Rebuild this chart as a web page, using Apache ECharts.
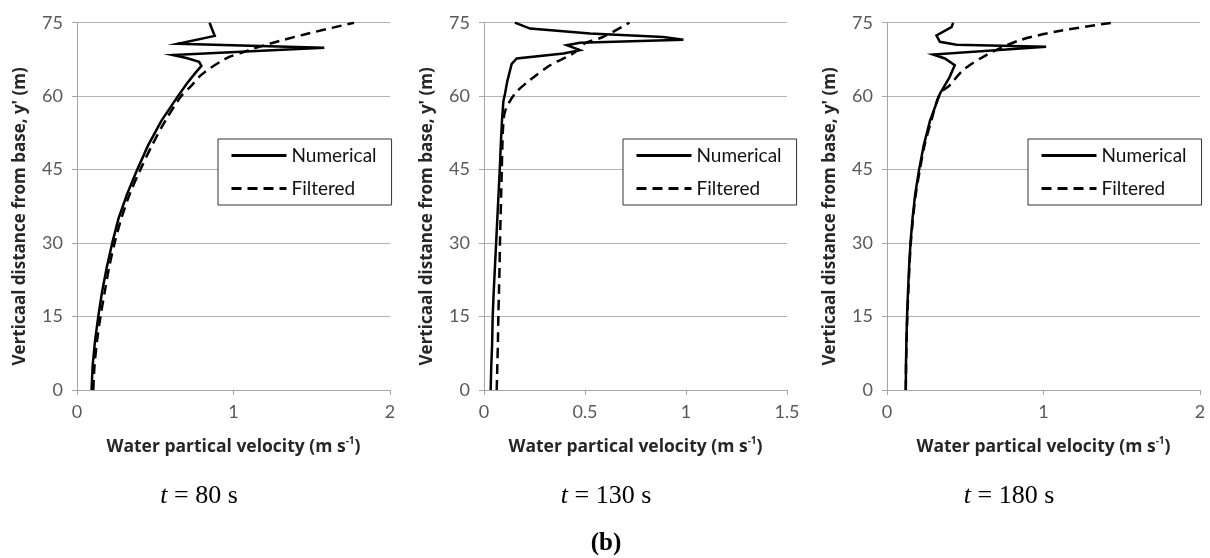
<!DOCTYPE html>
<html>
<head>
<meta charset="utf-8">
<script src="https://cdn.jsdelivr.net/npm/echarts@6/dist/echarts.min.js"></script>
<style>
html,body{margin:0;padding:0;background:#fff;}
#chart{width:1210px;height:558px;}
</style>
</head>
<body>
<div id="chart"></div>
<script>
// ---- data: [velocity (m/s), height y' (m)] ----
const num80 = [[0.093,0],[0.10,5],[0.115,10],[0.136,15],[0.16,20],[0.19,25],[0.225,30],[0.265,35],[0.32,40],[0.385,45],[0.455,50],[0.54,55],[0.645,60],[0.70,62.5],[0.75,64.5],[0.795,66.2],[0.78,67],[0.70,67.8],[0.613,68.4],[1.58,69.9],[0.645,70.7],[0.88,72.3],[0.847,75]];
const fil80 = [[0.104,0],[0.112,5],[0.128,10],[0.15,15],[0.177,20],[0.205,25],[0.24,30],[0.283,35],[0.337,40],[0.405,45],[0.48,50],[0.565,55],[0.665,60],[0.73,62.1],[0.80,64.5],[0.953,67.7],[1.09,69.3],[1.23,70.7],[1.44,72.5],[1.77,75]];
const num130 = [[0.033,0],[0.036,5],[0.04,9],[0.043,15],[0.048,20],[0.054,25],[0.06,30],[0.066,35],[0.072,40],[0.078,45],[0.083,50],[0.089,55],[0.096,59],[0.104,60.5],[0.115,63],[0.137,66.6],[0.162,67.7],[0.393,68.7],[0.475,69.4],[0.41,70.4],[0.475,70.9],[0.987,71.5],[0.888,72.1],[0.525,72.8],[0.228,73.8],[0.153,75]];
const fil130 = [[0.063,0],[0.066,5],[0.069,10],[0.071,15],[0.074,20],[0.077,25],[0.079,30],[0.082,35],[0.085,40],[0.088,45],[0.091,50],[0.095,54],[0.105,57],[0.153,60.5],[0.228,63.3],[0.327,66.3],[0.445,68.8],[0.50,70.8],[0.59,72.1],[0.72,75]];
const num180 = [[0.12,0],[0.121,5],[0.124,10],[0.128,15],[0.134,20],[0.141,25],[0.15,30],[0.163,35],[0.18,40],[0.205,45],[0.235,50],[0.275,55],[0.338,60.5],[0.40,63.9],[0.433,66.3],[0.37,67.7],[0.295,68.5],[1.017,70.1],[0.444,70.5],[0.338,71.1],[0.316,72.4],[0.412,74.1],[0.423,75]];
const fil180 = [[0.12,0],[0.122,5],[0.125,10],[0.13,15],[0.136,20],[0.143,25],[0.152,30],[0.166,35],[0.184,40],[0.21,45],[0.24,50],[0.283,55],[0.338,60.5],[0.40,62.2],[0.486,65.3],[0.635,68.4],[0.847,71.4],[1.10,73.3],[1.44,75]];

const seriesNames = ['Numerical','Filtered'];
const xMax = [2, 1.5, 2];
const xInterval = [1, 0.5, 1];
const yMax = 75, yInterval = 15;
const captions = ['80','130','180'];
const panelLabel = '(b)';
const xName = 'Water partical velocity (m s';
const yName = "Verticaal distance from base, y' (m)";

const numData = [num80, num130, num180];
const filData = [fil80, fil130, fil180];

// ---- layout ----
const grids = [
  {left:77, top:22.7, width:313, height:367.3},
  {left:484, top:22.7, width:303, height:367.3},
  {left:887, top:22.7, width:313, height:367.3}
];
const legendPos = [{left:218, top:139},{left:623, top:139},{left:1028, top:139}];
const captionX = [199, 606, 1009];

const axisGray = '#a6a6a6';
const labelColor = '#595959';
const nameColor = '#262626';
const sans = 'Lato, "Open Sans", sans-serif';
const nameFont = '"Open Sans", Lato, sans-serif';
const serif = '"Liberation Serif", "DejaVu Serif", serif';

const xAxes = [], yAxes = [], series = [], legends = [], graphics = [];
for (let i = 0; i < 3; i++) {
  xAxes.push({
    type:'value', gridIndex:i, min:0, max:xMax[i], interval:xInterval[i],
    axisLine:{show:true, lineStyle:{color:axisGray, width:1}},
    axisTick:{show:true, length:5, lineStyle:{color:axisGray}},
    splitLine:{show:false},
    axisLabel:{color:labelColor, fontSize:18, fontFamily:sans, margin:13},
    name:'{a|' + xName + '}{s|-1}{a|)}',
    nameLocation:'middle', nameGap:46,
    nameTextStyle:{
      rich:{
        a:{fontSize:17.5, fontWeight:'bold', fontFamily:nameFont, color:nameColor, lineHeight:22},
        s:{fontSize:10, fontWeight:'bold', fontFamily:nameFont, color:nameColor, verticalAlign:'top', lineHeight:22}
      }
    }
  });
  yAxes.push({
    type:'value', gridIndex:i, min:0, max:yMax, interval:yInterval,
    axisLine:{show:true, lineStyle:{color:axisGray, width:1}},
    axisTick:{show:true, length:5, lineStyle:{color:axisGray}},
    splitLine:{show:true, lineStyle:{color:'#b3b3b3', width:1}},
    axisLabel:{color:labelColor, fontSize:18, fontFamily:sans, margin:14},
    name:yName, nameLocation:'middle', nameGap:48,
    nameTextStyle:{fontSize:17, fontWeight:'bold', fontFamily:nameFont, color:nameColor, padding:[0,0,0,-20]}
  });
  series.push({
    name:seriesNames[0], type:'line', xAxisIndex:i, yAxisIndex:i,
    data:numData[i], symbol:'none', smooth:false,
    lineStyle:{color:'#000', width:2.5, join:'miter'}, itemStyle:{color:'#000'}, z:3
  });
  series.push({
    name:seriesNames[1], type:'line', xAxisIndex:i, yAxisIndex:i,
    data:filData[i], symbol:'none', smooth:0.3,
    lineStyle:{color:'#000', width:2.5, type:[10,6]}, itemStyle:{color:'#000'}, z:2
  });
  legends.push({
    left:legendPos[i].left, top:legendPos[i].top, orient:'vertical',
    data:seriesNames, backgroundColor:'#fff', borderColor:'#333', borderWidth:1,
    padding:[7,15,7,12], itemWidth:55, itemHeight:14, itemGap:14,
    itemStyle:{opacity:0},
    lineStyle:{width:3},
    textStyle:{fontSize:19, fontFamily:sans, color:'#111'},
    selectedMode:false
  });
  graphics.push({
    type:'text', x:captionX[i], y:496,
    style:{
      text:'{i|t} = ' + captions[i] + ' s',
      align:'center', verticalAlign:'middle',
      fontFamily:serif, fontSize:26, fill:'#000',
      rich:{i:{fontStyle:'italic', fontFamily:serif, fontSize:26, fill:'#000'}}
    }
  });
}
graphics.push({
  type:'text', x:606, y:544,
  style:{text:panelLabel, align:'center', verticalAlign:'middle', fontFamily:serif, fontSize:25, fontWeight:'bold', fill:'#000'}
});

const chart = echarts.init(document.getElementById('chart'), null, {renderer:'canvas'});
chart.setOption({
  animation:false,
  backgroundColor:'#fff',
  grid:grids,
  xAxis:xAxes,
  yAxis:yAxes,
  legend:legends,
  series:series,
  graphic:graphics
});
</script>
</body>
</html>
